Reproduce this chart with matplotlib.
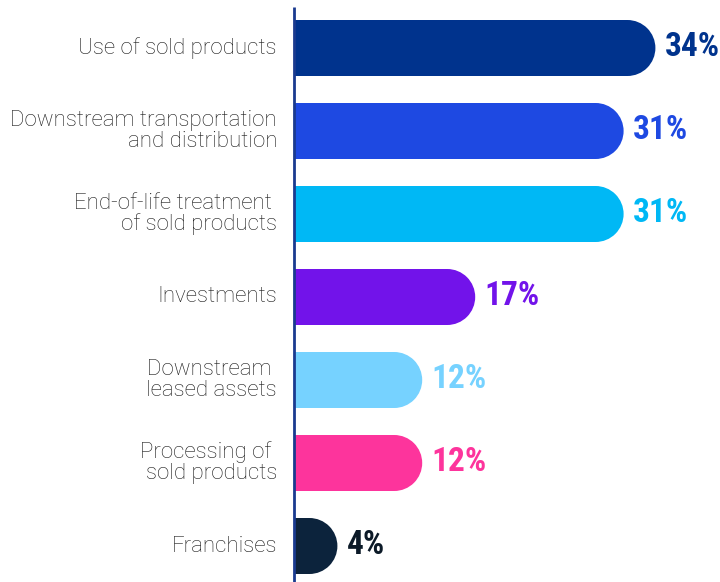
import matplotlib
matplotlib.use("Agg")
import matplotlib.pyplot as plt
from matplotlib.patches import Rectangle, Ellipse

categories = ["Use of sold products",
              "Downstream transportation\nand distribution",
              "End-of-life treatment \nof sold products",
              "Investments",
              "Downstream \nleased assets",
              "Processing of \nsold products",
              "Franchises"]
values = [34, 31, 31, 17, 12, 12, 4]
colors = ["#00338D", "#1E49E2", "#00B8F5", "#7213EA", "#76D2FF", "#FD349C", "#0C233C"]
label_colors = ["#00338D", "#1E49E2", "#00B8F5", "#7213EA", "#76D2FF", "#FD349C", "#0C1A28"]

W, H = 720, 582
fig = plt.figure(figsize=(W / 100, H / 100), dpi=100)
left_px = 295
ax = fig.add_axes([left_px / W, 0, (W - left_px) / W, 1])

px_per_pct = 10.6
row_px = 83.0
first_px = 48.0
xmax = (W - left_px) / px_per_pct
ax.set_xlim(0, xmax)
ax.set_ylim((H - first_px) / row_px, -first_px / row_px)
ax.axis("off")

bar_h = 56 / row_px
rx = 28 / px_per_pct  # radius of rounded end, in data units

pct_font = ["Roboto Condensed", "DejaVu Sans"]

for i, (v, c) in enumerate(zip(values, colors)):
    ax.add_patch(Rectangle((0, i - bar_h / 2), v - rx, bar_h, color=c, lw=0))
    ax.add_patch(Ellipse((v - rx, i), 2 * rx, bar_h, color=c, lw=0))
    ax.text(v + 9 / px_per_pct, i - 0.01, f"{v}%", color=label_colors[i],
            fontsize=24, fontweight="bold", family=pct_font, fontstretch="condensed",
            ha="left", va="center")
    ax.text(-18 / px_per_pct, i, categories[i], color="#1a1a1a", fontsize=16,
            family="Roboto", fontweight="light", ha="right", va="center",
            linespacing=1.0, clip_on=False)

# vertical baseline
ax.plot([-1 / px_per_pct, -1 / px_per_pct], [(H - first_px) / row_px, (7 - first_px) / row_px],
        color="#1A3A8F", lw=2, clip_on=False, solid_capstyle="butt")

fig.savefig("out.png", dpi=100)
